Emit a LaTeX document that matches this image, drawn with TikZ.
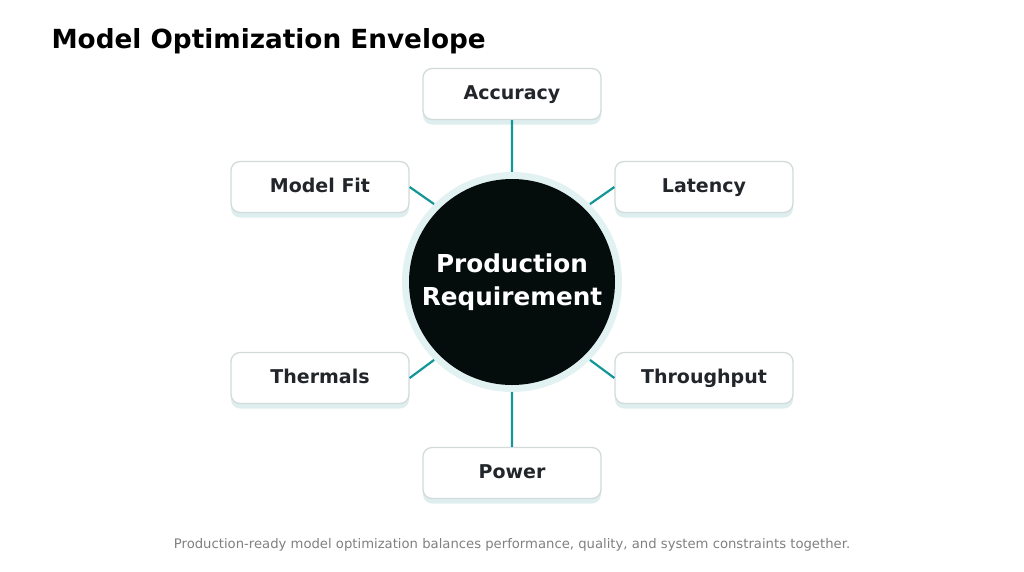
\documentclass[tikz,border=0pt]{standalone}
\usepackage{fontspec}
\setmainfont{DejaVu Sans}
\usetikzlibrary{positioning}
\definecolor{ink}{RGB}{34,38,42}
\definecolor{teal}{RGB}{20,150,150}
\definecolor{halo}{RGB}{226,242,242}
\definecolor{edge}{RGB}{210,218,218}
\definecolor{shade}{RGB}{222,238,238}
\definecolor{core}{RGB}{4,12,12}
\tikzset{
  factor/.style={draw=edge, line width=1.3pt, fill=white, rounded corners=9pt,
    minimum width=178pt, minimum height=51pt, font=\fontsize{19}{22}\selectfont\bfseries,
    text=ink, text height=14pt, text depth=4pt},
  shadow/.style={fill=shade, rounded corners=9pt, minimum width=178pt, minimum height=51pt},
  link/.style={draw=teal, line width=2.2pt},
}
\begin{document}
\begin{tikzpicture}[x=1pt,y=-1pt]
	\useasboundingbox (0,0) rectangle (1024,571);
	\node[anchor=west, font=\fontsize{26.3}{30}\selectfont\bfseries] (title) at (48,41) {Model Optimization Envelope};
	
	\node[circle, fill=halo, minimum size=220pt, inner sep=0pt] (halo) at (512,282) {};
	\node[circle, fill=core, minimum size=206pt, inner sep=0pt, text=white, align=center,
	  font=\fontsize{24.7}{33}\selectfont\bfseries] (req) at (512,282) {Production\\Requirement};
	
	% shadows first
	\foreach \x/\y in {512/99, 320/192, 704/192, 320/383, 704/383, 512/478}
	  \node[shadow] at (\x,\y) {};
	
	\node[factor] (acc) at (512,94) {Accuracy};
	\node[factor] (fit) at (320,187) {Model Fit};
	\node[factor] (lat) at (704,187) {Latency};
	\node[factor] (thm) at (320,378) {Thermals};
	\node[factor] (thr) at (704,378) {Throughput};
	\node[factor] (pow) at (512,473) {Power};
	
	\path[link] (acc.south)--(halo.90) (pow.north)--(halo.270)
	  (fit.east)--(halo.135) (lat.west)--(halo.45)
	  (thm.east)--(halo.225) (thr.west)--(halo.315);
	
	\node[text=gray, font=\fontsize{13.2}{16}\selectfont] (note) at (512,545)
	  {Production-ready model optimization balances performance, quality, and system constraints together.};
\end{tikzpicture}
\end{document}
